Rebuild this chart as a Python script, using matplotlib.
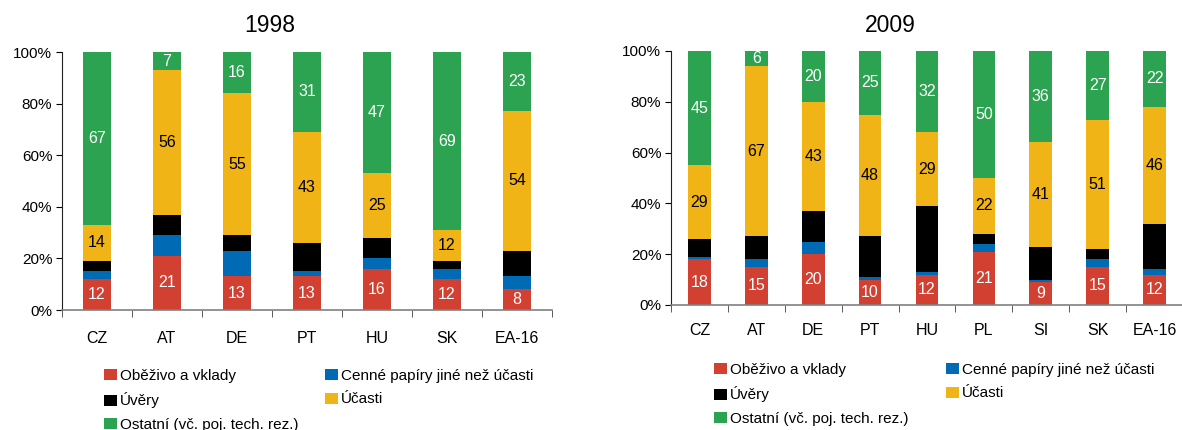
import matplotlib
matplotlib.use("Agg")
import matplotlib.pyplot as plt
import numpy as np

plt.rcParams['font.family'] = ['Liberation Sans', 'DejaVu Sans']

# 1998
zeme_98 = ['CZ', 'AT', 'DE', 'PT', 'HU', 'SK', 'EA-16']
obezivo_98 = [12, 21, 13, 13, 16, 12, 8]
cenne_98 = [3, 8, 10, 2, 4, 4, 5]
uvery_98 = [4, 8, 6, 11, 8, 3, 10]
ucasti_98 = [14, 56, 55, 43, 25, 12, 54]
ostatni_98 = [67, 7, 16, 31, 47, 69, 23]

# 2009
zeme_09 = ['CZ', 'AT', 'DE', 'PT', 'HU', 'PL', 'SI', 'SK', 'EA-16']
obezivo_09 = [18, 15, 20, 10, 12, 21, 9, 15, 12]
cenne_09 = [1, 3, 5, 1, 1, 3, 1, 3, 2]
uvery_09 = [7, 9, 12, 16, 26, 4, 13, 4, 18]
ucasti_09 = [29, 67, 43, 48, 29, 22, 41, 51, 46]
ostatni_09 = [45, 6, 20, 25, 32, 50, 36, 27, 22]

nazvy = ['Oběživo a vklady', 'Cenné papíry jiné než účasti', 'Úvěry',
         'Účasti', 'Ostatní (vč. poj. tech. rez.)']
barvy = ['#D24032', '#006AB4', '#000000', '#F0B416', '#2CA351']
popisky = [True, False, False, True, True]
barvy_textu = ['white', None, None, 'black', 'white']

W, H = 1182, 430
fig = plt.figure(figsize=(W / 100, H / 100), dpi=100)


def graf(rect, zeme, rady, sirka, pad):
    ax = fig.add_axes(rect)
    x = np.arange(len(zeme))
    spodek = np.zeros(len(zeme))
    handles = []
    for i, rada in enumerate(rady):
        rada = np.array(rada, dtype=float)
        b = ax.bar(x, rada, sirka, bottom=spodek, color=barvy[i], label=nazvy[i])
        handles.append(b)
        if popisky[i]:
            for xi, s, v in zip(x, spodek, rada):
                ax.text(xi, s + v / 2, str(int(v)), ha='center', va='center',
                        fontsize=11.5, color=barvy_textu[i])
        spodek += rada
    ax.set_xlim(-0.5, len(zeme) - 0.5)
    ax.set_ylim(0, 100)
    ax.set_yticks(np.arange(0, 101, 20))
    ax.set_yticklabels([f'{v}%' for v in range(0, 101, 20)], fontsize=11)
    ax.set_xticks(x)
    ax.set_xticklabels(zeme, fontsize=11.5)
    ax.set_xticks(np.arange(-0.5, len(zeme)), minor=True)
    ax.tick_params(axis='x', which='major', length=0, pad=pad)
    ax.tick_params(axis='x', which='minor', length=5, color='#404040')
    ax.tick_params(axis='y', length=4, pad=3)
    ax.spines['top'].set_visible(False)
    ax.spines['right'].set_visible(False)
    ax.spines['bottom'].set_color('#808080')
    ax.spines['bottom'].set_linewidth(1.2)
    ax.spines['left'].set_color('#202020')
    return ax, handles


ax1, h1 = graf([62 / W, 1 - 310 / H, 490 / W, 258 / H],
               zeme_98, [obezivo_98, cenne_98, uvery_98, ucasti_98, ostatni_98], 0.41, 15)
ax2, h2 = graf([671 / W, 1 - 305 / H, 512 / W, 254 / H],
               zeme_09, [obezivo_09, cenne_09, uvery_09, ucasti_09, ostatni_09], 0.40, 13)

fig.text(270 / W, 1 - 25 / H, '1998', ha='center', va='center', fontsize=16.5)
fig.text(890 / W, 1 - 25 / H, '2009', ha='center', va='center', fontsize=16.5)

poradi = [0, 2, 4, 1, 3]
for handles, pos, sp in [(h1, (104, 369), 1.7), (h2, (714, 363), 2.45)]:
    fig.legend([handles[i] for i in poradi], [nazvy[i] for i in poradi],
               loc='upper left', bbox_to_anchor=(pos[0] / W, 1 - pos[1] / H),
               ncol=2, frameon=False, fontsize=11, borderpad=0,
               handlelength=0.85, handleheight=0.75, handletextpad=0.2,
               labelspacing=0.62, columnspacing=sp, borderaxespad=0)

fig.savefig('out.png', dpi=100)
